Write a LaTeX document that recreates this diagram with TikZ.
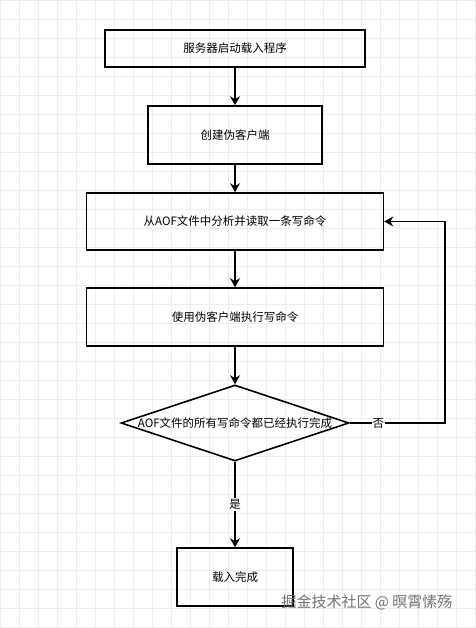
\documentclass[tikz,border=0pt]{standalone}
\usepackage{fontspec}
\setmainfont{Noto Sans CJK SC}
\usepackage{tikz}
\usetikzlibrary{arrows.meta}
\usetikzlibrary{shapes.geometric}
\usepackage{xcolor}

\begin{document}
\begin{tikzpicture}[x=1pt,y=-1pt,
  stepbox/.style={draw,line width=1.6pt,inner sep=0pt,font=\fontsize{11.5}{14}\selectfont},
  testbox/.style={diamond,draw,line width=1.6pt,aspect=3,inner sep=0pt,minimum width=228pt,minimum height=76pt,font=\fontsize{11.5}{14}\selectfont},
  flow/.style={line width=1.6pt,-{Stealth[length=9pt,width=10pt,inset=3pt]}},
  answer/.style={fill=white,inner sep=1pt,font=\fontsize{11.5}{14}\selectfont}]
 \useasboundingbox[fill=white] (0,0) rectangle (475,628);
 \draw[black!7,line width=0.6pt,step=19pt] (0,0) grid (475,628);

 \node[stepbox,minimum width=260pt,minimum height=37pt] (start) at (235,48.5) {服务器启动载入程序};
 \node[stepbox,minimum width=174pt,minimum height=58pt] (fake) at (235,135) {创建伪客户端};
 \node[stepbox,minimum width=297pt,minimum height=57pt] (read) at (235,221.5) {从AOF文件中分析并读取一条写命令};
 \node[stepbox,minimum width=297pt,minimum height=58pt] (exec) at (235,317) {使用伪客户端执行写命令};
 \node[testbox] (done) at (235,423) {AOF文件的所有写命令都已经执行完成};
 \node[stepbox,minimum width=116pt,minimum height=58pt] (finish) at (235,577) {载入完成};
 \coordinate (turn) at (445,423);

 \draw[flow] (start) -- (fake);
 \draw[flow] (fake) -- (read);
 \draw[flow] (read) -- (exec);
 \draw[flow] (exec) -- (done);
 \draw[flow] (done) -- node[answer] {是} (finish);
 \draw[flow] (done.east) -- node[answer,pos=0.3] {否} (turn) |- (read.east);

 \node[black!55,font=\fontsize{15}{18}\selectfont] (mark) at (367,602) {掘金技术社区 @ 暝霄愫殇};
\end{tikzpicture}
\end{document}
